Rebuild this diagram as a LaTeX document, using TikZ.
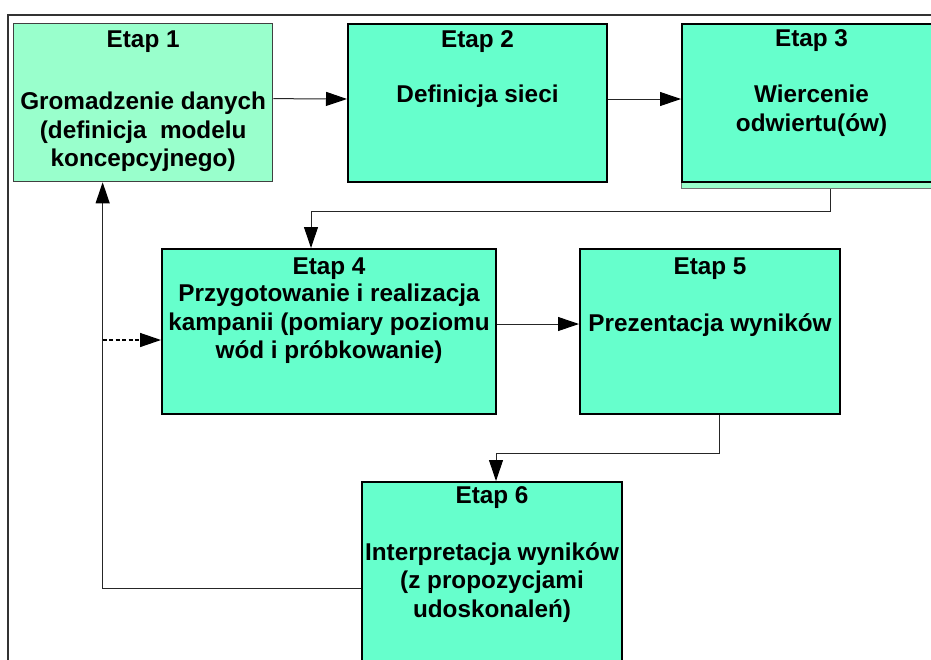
\documentclass[tikz,border=0pt]{standalone}
\usepackage{fontspec}
\setmainfont{Liberation Sans}
\usetikzlibrary{arrows.meta,calc}
\definecolor{stepfill}{HTML}{66FFCC}
\definecolor{firstfill}{HTML}{99FFCC}
\begin{document}
\begin{tikzpicture}[x=1pt,y=-1pt,
  box/.style={draw=black,line width=2pt,fill=stepfill,rectangle,inner sep=0pt,anchor=north west},
  firstbox/.style={box,draw=black!75,line width=1.3pt,fill=firstfill},
  ledge/.style={draw=black!55,line width=0.8pt,fill=firstfill,rectangle,inner sep=0pt,anchor=north west},
  title/.style={font=\bfseries\fontsize{24.3}{28.5}\selectfont,anchor=base,inner sep=0pt},
  body/.style={font=\bfseries\fontsize{24.3}{28.5}\selectfont,anchor=north,inner sep=0pt,align=center},
  link/.style={draw=black!85,line width=1pt,-{Triangle[length=21pt,width=14pt,color=black]}},
  ]
\clip (0,0) rectangle (931,659);
\fill[white] (0,0) rectangle (931,659);
% outer frame, running off the right and bottom edges
\draw[black!80,line width=1.5pt] (8,680) -- (8,15) -- (950,15);

% stage boxes
\node[firstbox,minimum width=259pt,minimum height=158pt] (b1) at (13,23) {};
\node[box,minimum width=259pt,minimum height=158pt] (b2) at (347,23) {};
\node[ledge,minimum width=259pt,minimum height=7pt] (s3) at (681,181) {};
\node[box,minimum width=259pt,minimum height=158pt] (b3) at (681,23) {};
\node[box,minimum width=334pt,minimum height=165pt] (b4) at (161,248) {};
\node[box,minimum width=260pt,minimum height=165pt] (b5) at (579,248) {};
\node[box,minimum width=260pt,minimum height=200pt] (b6) at (361,481) {};

% box texts
\node[title] (t1) at ($(b1.north)+(0,24)$) {Etap 1};
\node[body] (x1) at ($(b1.north)+(0,69)$) {Gromadzenie danych\\(definicja\ \ modelu\\koncepcyjnego)};
\node[title] (t2) at ($(b2.north)+(0,24)$) {Etap 2};
\node[body] (x2) at ($(b2.north)+(0,62)$) {Definicja sieci};
\node[title] (t3) at ($(b3.north)+(0,23)$) {Etap 3};
\node[body] (x3) at ($(b3.north)+(0,62)$) {Wiercenie\\odwiertu(ów)};
\node[title] (t4) at ($(b4.north)+(0,26)$) {Etap 4};
\node[body] (x4) at ($(b4.north)+(0,36)$) {Przygotowanie i realizacja\\kampanii (pomiary poziomu\\wód i próbkowanie)};
\node[title] (t5) at ($(b5.north)+(0,26)$) {Etap 5};
\node[body] (x5) at ($(b5.north)+(0,65)$) {Prezentacja wyników};
\node[title] (t6) at ($(b6.north)+(0,22)$) {Etap 6};
\node[body] (x6) at ($(b6.north)+(0,61)$) {Interpretacja wyników\\(z propozycjami\\udoskonaleń)};

% connectors
\draw[link] ([yshift=4pt]b1.east) -- ([yshift=4pt]b2.west);
\draw[link] ([yshift=4pt]b2.east) -- ([yshift=4pt]b3.west);
\draw[link] ([xshift=19.5pt]s3.south) -- ++(0,23) -| ([xshift=-18pt]b4.north);
\draw[link] ([yshift=7.5pt]b4.east) -- ([yshift=7.5pt]b5.west);
\draw[link] ([xshift=9pt]b5.south) -- ++(0,38) -| ([xshift=4pt]b6.north);
\draw[link] ([yshift=-6pt]b6.west) -| ([xshift=-40.5pt]b1.south);
\coordinate (fork) at ([xshift=-40.5pt]b1.south |- 0,340);
\draw[link,draw=black,line width=1.4pt,dash pattern=on 4pt off 2.5pt] (fork) -- (b4.west |- fork);
\end{tikzpicture}
\end{document}
